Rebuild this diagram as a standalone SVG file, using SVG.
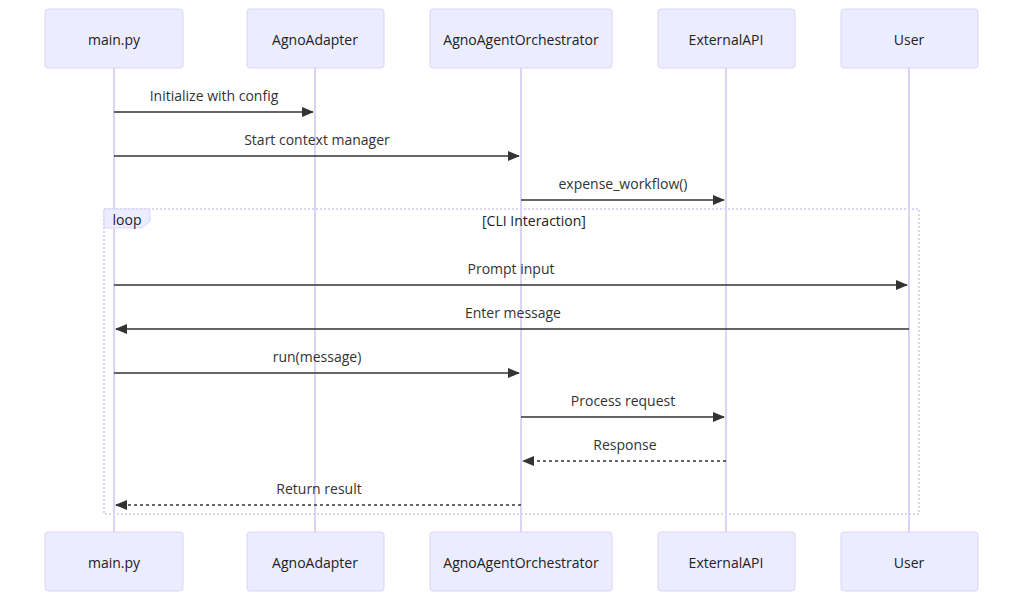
<svg xmlns="http://www.w3.org/2000/svg" width="1024" height="602" viewBox="0 0 1024 602">
<style>
.actor{fill:#ECECFF;stroke:#DCD4F7;stroke-width:1}
.atext{font-family:"Open Sans","DejaVu Sans",sans-serif;font-size:14px;fill:#222;text-anchor:middle;dominant-baseline:central}
.life{stroke:#DCD4F7;stroke-width:2}
.msg{stroke:#333;stroke-width:1.5;fill:none}
.dash{stroke-dasharray:3,3}
.mtext{font-family:"Open Sans","DejaVu Sans",sans-serif;font-size:14px;fill:#333;text-anchor:middle}
.loop{fill:none;stroke:#DCD4F7;stroke-width:2;stroke-dasharray:2,2}
</style>
<defs>
<marker id="ah" viewBox="0 0 12 10" refX="11" refY="5" markerWidth="12" markerHeight="10" markerUnits="userSpaceOnUse" orient="auto">
<path d="M0,0 L12,5 L0,10 z" fill="#333"/>
</marker>
</defs>
<rect width="1024" height="602" fill="#fff"/>
<g id="loop-frame">
<rect class="loop" x="104" y="209" width="815" height="305"/>
</g>
<g id="lifelines">
<line class="life" x1="114" y1="68" x2="114" y2="532"/>
<line class="life" x1="315" y1="68" x2="315" y2="532"/>
<line class="life" x1="521" y1="68" x2="521" y2="532"/>
<line class="life" x1="726" y1="68" x2="726" y2="532"/>
<line class="life" x1="909" y1="68" x2="909" y2="532"/>
</g>
<g id="loop-label">
<path d="M104,209 L150,209 L150,221 L142,228 L104,228 Z" fill="#ECECFF" stroke="#DCD4F7" stroke-width="1"/>
<text class="mtext" x="127" y="225" style="fill:#222">loop</text>
<text class="mtext" x="534" y="226" style="font-weight:500;fill:#222">[CLI Interaction]</text>
</g>
<g id="actor-main-top"><rect class="actor" x="45" y="9" width="138" height="59" rx="3"/><text class="atext" x="114" y="39">main.py</text></g>
<g id="actor-adapter-top"><rect class="actor" x="247" y="9" width="137" height="59" rx="3"/><text class="atext" x="315" y="39">AgnoAdapter</text></g>
<g id="actor-orch-top"><rect class="actor" x="430" y="9" width="182" height="59" rx="3"/><text class="atext" x="521" y="39">AgnoAgentOrchestrator</text></g>
<g id="actor-ext-top"><rect class="actor" x="658" y="9" width="137" height="59" rx="3"/><text class="atext" x="726" y="39">ExternalAPI</text></g>
<g id="actor-user-top"><rect class="actor" x="841" y="9" width="137" height="59" rx="3"/><text class="atext" x="909" y="39">User</text></g>
<g id="connectors">
<text class="mtext" x="214" y="101">Initialize with config</text>
<line class="msg" x1="114" y1="112" x2="313" y2="112" marker-end="url(#ah)"/>
<text class="mtext" x="317" y="145">Start context manager</text>
<line class="msg" x1="114" y1="156" x2="519" y2="156" marker-end="url(#ah)"/>
<text class="mtext" x="623" y="189">expense_workflow()</text>
<line class="msg" x1="521" y1="200" x2="724" y2="200" marker-end="url(#ah)"/>
<text class="mtext" x="511" y="274">Prompt input</text>
<line class="msg" x1="114" y1="285" x2="907" y2="285" marker-end="url(#ah)"/>
<text class="mtext" x="513" y="318">Enter message</text>
<line class="msg" x1="909" y1="329" x2="116" y2="329" marker-end="url(#ah)"/>
<text class="mtext" x="317" y="362">run(message)</text>
<line class="msg" x1="114" y1="373" x2="519" y2="373" marker-end="url(#ah)"/>
<text class="mtext" x="623" y="406">Process request</text>
<line class="msg" x1="521" y1="417" x2="724" y2="417" marker-end="url(#ah)"/>
<text class="mtext" x="625" y="450">Response</text>
<line class="msg dash" x1="726" y1="461" x2="523" y2="461" marker-end="url(#ah)"/>
<text class="mtext" x="319" y="494">Return result</text>
<line class="msg dash" x1="521" y1="505" x2="116" y2="505" marker-end="url(#ah)"/>
</g>
<g id="actor-main-bottom"><rect class="actor" x="45" y="532" width="138" height="59" rx="3"/><text class="atext" x="114" y="562">main.py</text></g>
<g id="actor-adapter-bottom"><rect class="actor" x="247" y="532" width="137" height="59" rx="3"/><text class="atext" x="315" y="562">AgnoAdapter</text></g>
<g id="actor-orch-bottom"><rect class="actor" x="430" y="532" width="182" height="59" rx="3"/><text class="atext" x="521" y="562">AgnoAgentOrchestrator</text></g>
<g id="actor-ext-bottom"><rect class="actor" x="658" y="532" width="137" height="59" rx="3"/><text class="atext" x="726" y="562">ExternalAPI</text></g>
<g id="actor-user-bottom"><rect class="actor" x="841" y="532" width="137" height="59" rx="3"/><text class="atext" x="909" y="562">User</text></g>
</svg>
